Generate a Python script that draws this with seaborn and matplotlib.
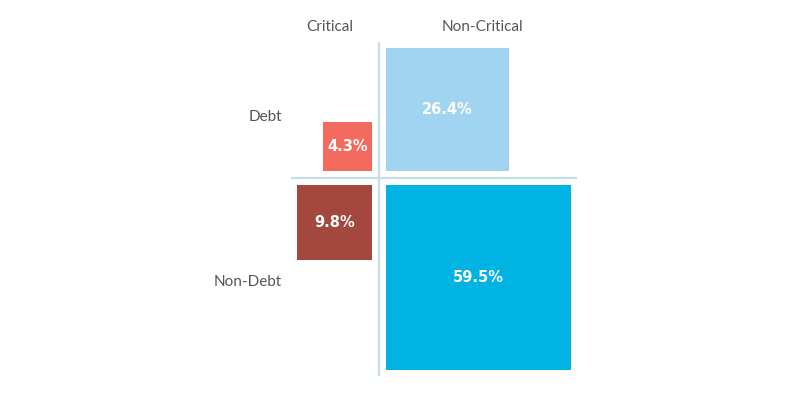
import numpy as np
import pandas as pd
import matplotlib
matplotlib.use("Agg")
import matplotlib.pyplot as plt
import seaborn as sns

# ---- data ----
rows = ["Debt", "Non-Debt"]
cols = ["Critical", "Non-Critical"]
debt_values = [4.3, 26.4]        # Critical, Non-Critical
nondebt_values = [9.8, 59.5]     # Critical, Non-Critical
value_labels = ["4.3%", "26.4%", "9.8%", "59.5%"]
colors = ["#F26B5E", "#A0D4F0", "#A4483F", "#00B3E3"]

sns.set_theme(style="white")
plt.rcParams["font.family"] = ["Lato", "DejaVu Sans"]

df = pd.DataFrame({
    "row": [rows[0], rows[0], rows[1], rows[1]],
    "col": [cols[0], cols[1], cols[0], cols[1]],
    "value": debt_values + nondebt_values,
    "label": value_labels,
    "color": colors,
})
df["side"] = np.sqrt(df["value"])

W, H, DPI = 790, 395, 100
fig = plt.figure(figsize=(W / DPI, H / DPI), dpi=DPI)
ax = fig.add_axes([0, 0, 1, 1])

# scale: pixels per unit of sqrt(%)
scale = 24.1
cx, cy = 379, 178  # centre of cross in pixels (from top-left)
ax.set_xlim(-cx / scale, (W - cx) / scale)
ax.set_ylim(-(H - cy) / scale, cy / scale)
ax.set_axis_off()

gap = 0.27
pad = 0.24

for _, r in df.iterrows():
    s = r["side"]
    left = gap if r["col"] == cols[1] else -(gap + s)
    bottom = gap if r["row"] == rows[0] else -(gap + s)
    ax.bar(left, s, width=s, bottom=bottom, align="edge", color=r["color"],
           edgecolor="none", linewidth=0, zorder=2)
    ax.text(left + s / 2, bottom + s / 2, r["label"], ha="center", va="center",
            color="white", fontsize=10.5, fontweight="bold",
            family=["DejaVu Sans"], zorder=3)

# cross lines
top_ext = df.loc[df["row"] == rows[0], "side"].max() + gap + pad
bot_ext = df.loc[df["row"] == rows[1], "side"].max() + gap + pad
left_ext = df.loc[df["col"] == cols[0], "side"].max() + gap + pad
right_ext = df.loc[df["col"] == cols[1], "side"].max() + gap + pad
line_color = "#C6DEE9"
ax.plot([0, 0], [-bot_ext, top_ext], color=line_color, lw=1.6, zorder=1,
        solid_capstyle="butt")
ax.plot([-left_ext, right_ext], [0, 0], color=line_color, lw=1.6, zorder=1,
        solid_capstyle="butt")

# headers (pixel positions converted to figure fraction)
def fx(px):
    return px / W

def fy(py):
    return 1 - py / H

label_color = "#555555"
fig.text(fx(330), fy(27), cols[0], ha="center", va="center", fontsize=11,
         color=label_color)
fig.text(fx(482), fy(27), cols[1], ha="center", va="center", fontsize=11,
         color=label_color)
fig.text(fx(282), fy(117), rows[0], ha="right", va="center", fontsize=11,
         color=label_color)
fig.text(fx(282), fy(282), rows[1], ha="right", va="center", fontsize=11,
         color=label_color)

fig.savefig("out.png", dpi=DPI, facecolor="white")
